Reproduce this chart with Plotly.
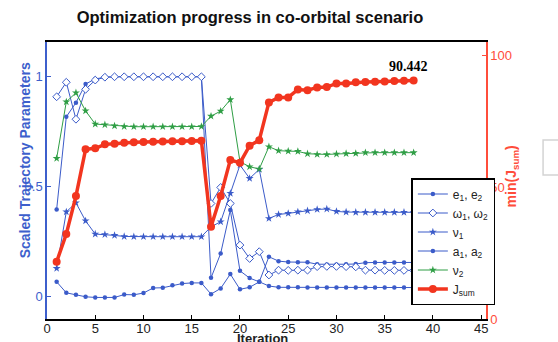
import plotly.graph_objects as go

# Iteration index and scaled parameter histories
iterations = list(range(1, 39))

e_vals = [0.397, 0.818, 0.882, 0.967, 0.990, 0.998, 1.0, 1.0, 1.0, 1.0, 1.0, 1.0, 1.0, 1.0, 1.0, 1.0,
          0.086, 0.197, 0.394, 0.118, 0.085, 0.068, 0.182, 0.162, 0.158, 0.157, 0.157,
          0.148, 0.147, 0.147, 0.148, 0.149, 0.155, 0.156, 0.156, 0.156, 0.156, 0.156]

omega_vals = [0.909, 0.975, 0.807, 0.943, 0.985, 0.998, 1.0, 1.0, 1.0, 1.0, 1.0, 1.0, 1.0, 1.0, 1.0, 1.0,
              0.424, 0.497, 0.424, 0.235, 0.174, 0.205, 0.099, 0.121, 0.120, 0.121, 0.121,
              0.137, 0.138, 0.138, 0.137, 0.136, 0.121, 0.121, 0.120, 0.120, 0.120, 0.120]

nu1_vals = [0.129, 0.386, 0.427, 0.345, 0.285, 0.283, 0.279, 0.274, 0.273, 0.273, 0.273, 0.273, 0.273,
            0.273, 0.273, 0.273,
            0.318, 0.341, 0.470, 0.599, 0.538, 0.579, 0.356, 0.374, 0.379, 0.386, 0.391,
            0.397, 0.399, 0.388, 0.385, 0.384, 0.384, 0.384, 0.384, 0.384, 0.384, 0.384]

a_vals = [0.068, 0.018, 0.009, 0.000, -0.003, -0.003, -0.003, 0.010, 0.009, 0.017, 0.040, 0.041, 0.052,
          0.060, 0.063, 0.063,
          0.012, 0.038, 0.103, 0.034, 0.043, 0.068, 0.049, 0.043, 0.043, 0.043, 0.042,
          0.042, 0.042, 0.042, 0.042, 0.042, 0.042, 0.042, 0.042, 0.042, 0.042, 0.042]

nu2_vals = [0.629, 0.886, 0.927, 0.845, 0.785, 0.782, 0.777, 0.774, 0.773, 0.773, 0.773, 0.773, 0.773,
            0.773, 0.773, 0.774,
            0.821, 0.844, 0.896, 0.614, 0.591, 0.581, 0.682, 0.664, 0.662, 0.661, 0.650,
            0.647, 0.647, 0.649, 0.651, 0.652, 0.655, 0.655, 0.655, 0.655, 0.655, 0.655]

# Minimum cost found so far (right axis)
j_sum = [21.7, 32.2, 46.6, 64.3, 64.7, 66.2, 66.4, 66.8, 67.0, 67.1, 67.2, 67.3, 67.4, 67.4, 67.5, 67.6,
         35.0, 46.6, 60.3, 59.2, 65.7, 67.8, 82.1, 84.0, 84.0, 87.0, 86.7,
         87.8, 87.9, 89.3, 89.3, 89.7, 89.8, 89.9, 90.0, 90.2, 90.3, 90.442]

x_ticks = [0, 5, 10, 15, 20, 25, 30, 35, 40, 45]
left_ticks = [0, 0.5, 1]
left_tick_text = ["0", "0.5", "1"]
right_ticks = [0, 50, 100]

BLUE = "#3b5bc9"
GREEN = "#2f9e45"
RED = "#f2351f"
AXIS_BLUE = "#3d5fcc"
AXIS_RED = "#ff4d3b"
FONT = "Liberation Sans, Arial, sans-serif"

fig = go.Figure()

def blue_trace(y, name, symbol, size, open_marker=False):
    marker = dict(symbol=symbol, size=size, color=BLUE)
    if open_marker:
        marker = dict(symbol=symbol, size=size, color="white", line=dict(color=BLUE, width=1))
    return go.Scatter(x=iterations, y=y, name=name, mode="lines+markers",
                      line=dict(color=BLUE, width=1), marker=marker)

fig.add_trace(blue_trace(e_vals, "e<sub>1</sub>, e<sub>2</sub>", "circle", 4.5))
fig.add_trace(blue_trace(omega_vals, "ω<sub>1</sub>, ω<sub>2</sub>", "diamond", 6, open_marker=True))
fig.add_trace(blue_trace(nu1_vals, "ν<sub>1</sub>", "star", 6))
fig.add_trace(blue_trace(a_vals, "a<sub>1</sub>, a<sub>2</sub>", "circle", 4.5))
fig.add_trace(go.Scatter(x=iterations, y=nu2_vals, name="ν<sub>2</sub>", mode="lines+markers",
                         line=dict(color=GREEN, width=1),
                         marker=dict(symbol="star", size=6, color=GREEN)))
fig.add_trace(go.Scatter(x=iterations, y=j_sum, name="J<sub>sum</sub>", mode="lines+markers",
                         yaxis="y2", line=dict(color=RED, width=3.5),
                         marker=dict(symbol="circle", size=8, color=RED)))

# Final cost label above the last point
fig.add_annotation(x=iterations[-1], y=j_sum[-1], xref="x", yref="y2",
                   text="<b>%.3f</b>" % j_sum[-1], showarrow=False,
                   xshift=-5, yshift=14,
                   font=dict(family="Liberation Serif, Times New Roman, serif", size=14, color="black"))

# Axis titles
fig.add_annotation(xref="paper", yref="paper", x=-0.074, y=0.571, text="<b>Scaled Trajectory Parameters</b>",
                   textangle=-90, showarrow=False, font=dict(family=FONT, size=14, color=AXIS_BLUE))
fig.add_annotation(xref="paper", yref="paper", x=1.085, y=0.516, text="<b>min(J<sub>sum</sub>)</b>",
                   textangle=-90, showarrow=False, font=dict(family=FONT, size=14, color=AXIS_RED))
fig.add_annotation(xref="paper", yref="paper", x=0.491, y=-0.036, yanchor="top",
                   text="<b>Iteration</b>", showarrow=False,
                   font=dict(family=FONT, size=13, color="#222"))

# Faint frame fragment at the right edge
fig.add_shape(type="rect", xref="paper", yref="paper", x0=1.13, x1=1.4, y0=0.52, y1=0.646,
              line=dict(color="#d4d4d4", width=1.5), fillcolor="rgba(0,0,0,0)")

fig.update_layout(
    width=558, height=342,
    margin=dict(l=47, r=72, t=42, b=23, autoexpand=False),
    paper_bgcolor="white", plot_bgcolor="white",
    font=dict(family=FONT, size=13, color="#222"),
    title=dict(text="<b>Optimization progress in co-orbital scenario</b>",
               x=0.448, xref="container", xanchor="center",
               y=0.95, yref="container", yanchor="middle",
               font=dict(family=FONT, size=16.5, color="#111")),
    xaxis=dict(range=[0, 45.5], tickvals=x_ticks, ticks="inside", ticklen=4, tickcolor="black",
               showline=True, linecolor="black", linewidth=1.5, mirror=True,
               ticklabelstandoff=-3, automargin=False,
               showgrid=False, zeroline=False, tickfont=dict(size=13, color="#222")),
    yaxis=dict(range=[-0.101, 1.158], tickvals=left_ticks, ticktext=left_tick_text,
               ticks="inside", ticklen=4, tickcolor=AXIS_BLUE, automargin=False,
               showline=True, linecolor=AXIS_BLUE, linewidth=1.5,
               showgrid=False, zeroline=False, tickfont=dict(size=13, color=AXIS_BLUE)),
    yaxis2=dict(range=[0, 105], tickvals=right_ticks, overlaying="y", side="right",
                ticks="inside", ticklen=4, tickcolor=AXIS_RED, automargin=False,
                showline=True, linecolor=AXIS_RED, linewidth=1.5,
                showgrid=False, zeroline=False, tickfont=dict(size=13, color=AXIS_RED)),
    legend=dict(x=0.830, y=0.509, xanchor="left", yanchor="top",
                bgcolor="white", bordercolor="black", borderwidth=1.5,
                font=dict(family=FONT, size=12, color="#222"),
                itemwidth=30, tracegroupgap=0),
    showlegend=True,
)

fig.write_html("out.html")
